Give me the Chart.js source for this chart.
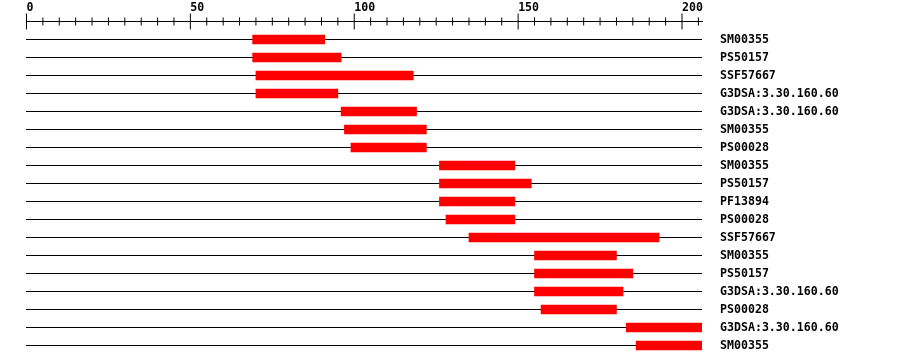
<!DOCTYPE html>
<html><head><meta charset="utf-8">
<script src="https://cdn.jsdelivr.net/npm/chart.js@4"></script>
<style>html,body{margin:0;padding:0;background:#fff}canvas{display:block}</style>
</head><body>
<canvas id="c" width="900" height="364"></canvas>
<script>
const names = ["SM00355","PS50157","SSF57667","G3DSA:3.30.160.60","G3DSA:3.30.160.60","SM00355","PS00028","SM00355","PS50157","PF13894","PS00028","SSF57667","SM00355","PS50157","G3DSA:3.30.160.60","PS00028","G3DSA:3.30.160.60","SM00355"];
const starts = [69,69,70,70,96,97,99,126,126,126,128,135,155,155,155,157,183,186];
const ends   = [91,96,118,95,119,122,122,149,154,149,149,193,180,185,182,180,206,206];
const axisTickLabels = [0,50,100,150,200];
const rulerTicks = [0,5,10,15,20,25,30,35,40,45,50,55,60,65,70,75,80,85,90,95,100,105,110,115,120,125,130,135,140,145,150,155,160,165,170,175,180,185,190,195,200,205];

const FONT = {family: "'DejaVu Sans Mono', monospace", size: 11.6, weight: 'bold', lineHeight: 1};

const bars = names.map((n,i)=>({y:i, x:[starts[i], ends[i]]}));
const ruler = rulerTicks.map(v=>({x:v, y:-1}));

const zeroPad = s => { s.paddingTop = 0; s.paddingBottom = 0; s.paddingLeft = 0; s.paddingRight = 0; };

new Chart(document.getElementById('c'), {
  type:'bar',
  data:{datasets:[
    {type:'bar', data:bars, backgroundColor:'#ff0000', borderWidth:0, barThickness:9, order:2},
    {type:'scatter', data:ruler, indexAxis:'x', pointStyle:'line', rotation:90,
     pointRadius: ctx => (ctx.raw && ctx.raw.x % 50 === 0) ? 8 : 4,
     pointBorderColor:'#000', pointBorderWidth:1, pointBackgroundColor:'#000', clip:false, order:1}
  ]},
  options:{
    indexAxis:'y', responsive:false, animation:false, events:[],
    layout:{padding:{left:26, right:0, top:0, bottom:10}},
    plugins:{legend:{display:false}, tooltip:{enabled:false}},
    scales:{
      x:{type:'linear', position:'top', min:-0.15, max:206.1, offset:false,
         afterBuildTicks: s => { s.ticks = axisTickLabels.map(v=>({value:v})); },
         afterFit: s => { s.height = 21; zeroPad(s); },
         grid:{display:false, drawTicks:false, offset:false},
         border:{display:true, color:'#000', width:1},
         ticks:{font:FONT, color:'#000', padding:7, align:'start', autoSkip:false, maxRotation:0, callback: v => String(v)}},
      y:{type:'linear', position:'right', reverse:true, min:-1.02778, max:17.4722, offset:false,
         afterBuildTicks: s => { s.ticks = names.map((n,i)=>({value:i})); },
         afterFit: s => { s.width = 198; zeroPad(s); },
         grid:{color:'#000', lineWidth:1, drawTicks:false, offset:false},
         border:{display:false},
         ticks:{font:FONT, color:'#000', padding:18, autoSkip:false, callback: v => (names[v] !== undefined ? names[v] : '')}}
    }
  }
});
</script>
</body></html>
